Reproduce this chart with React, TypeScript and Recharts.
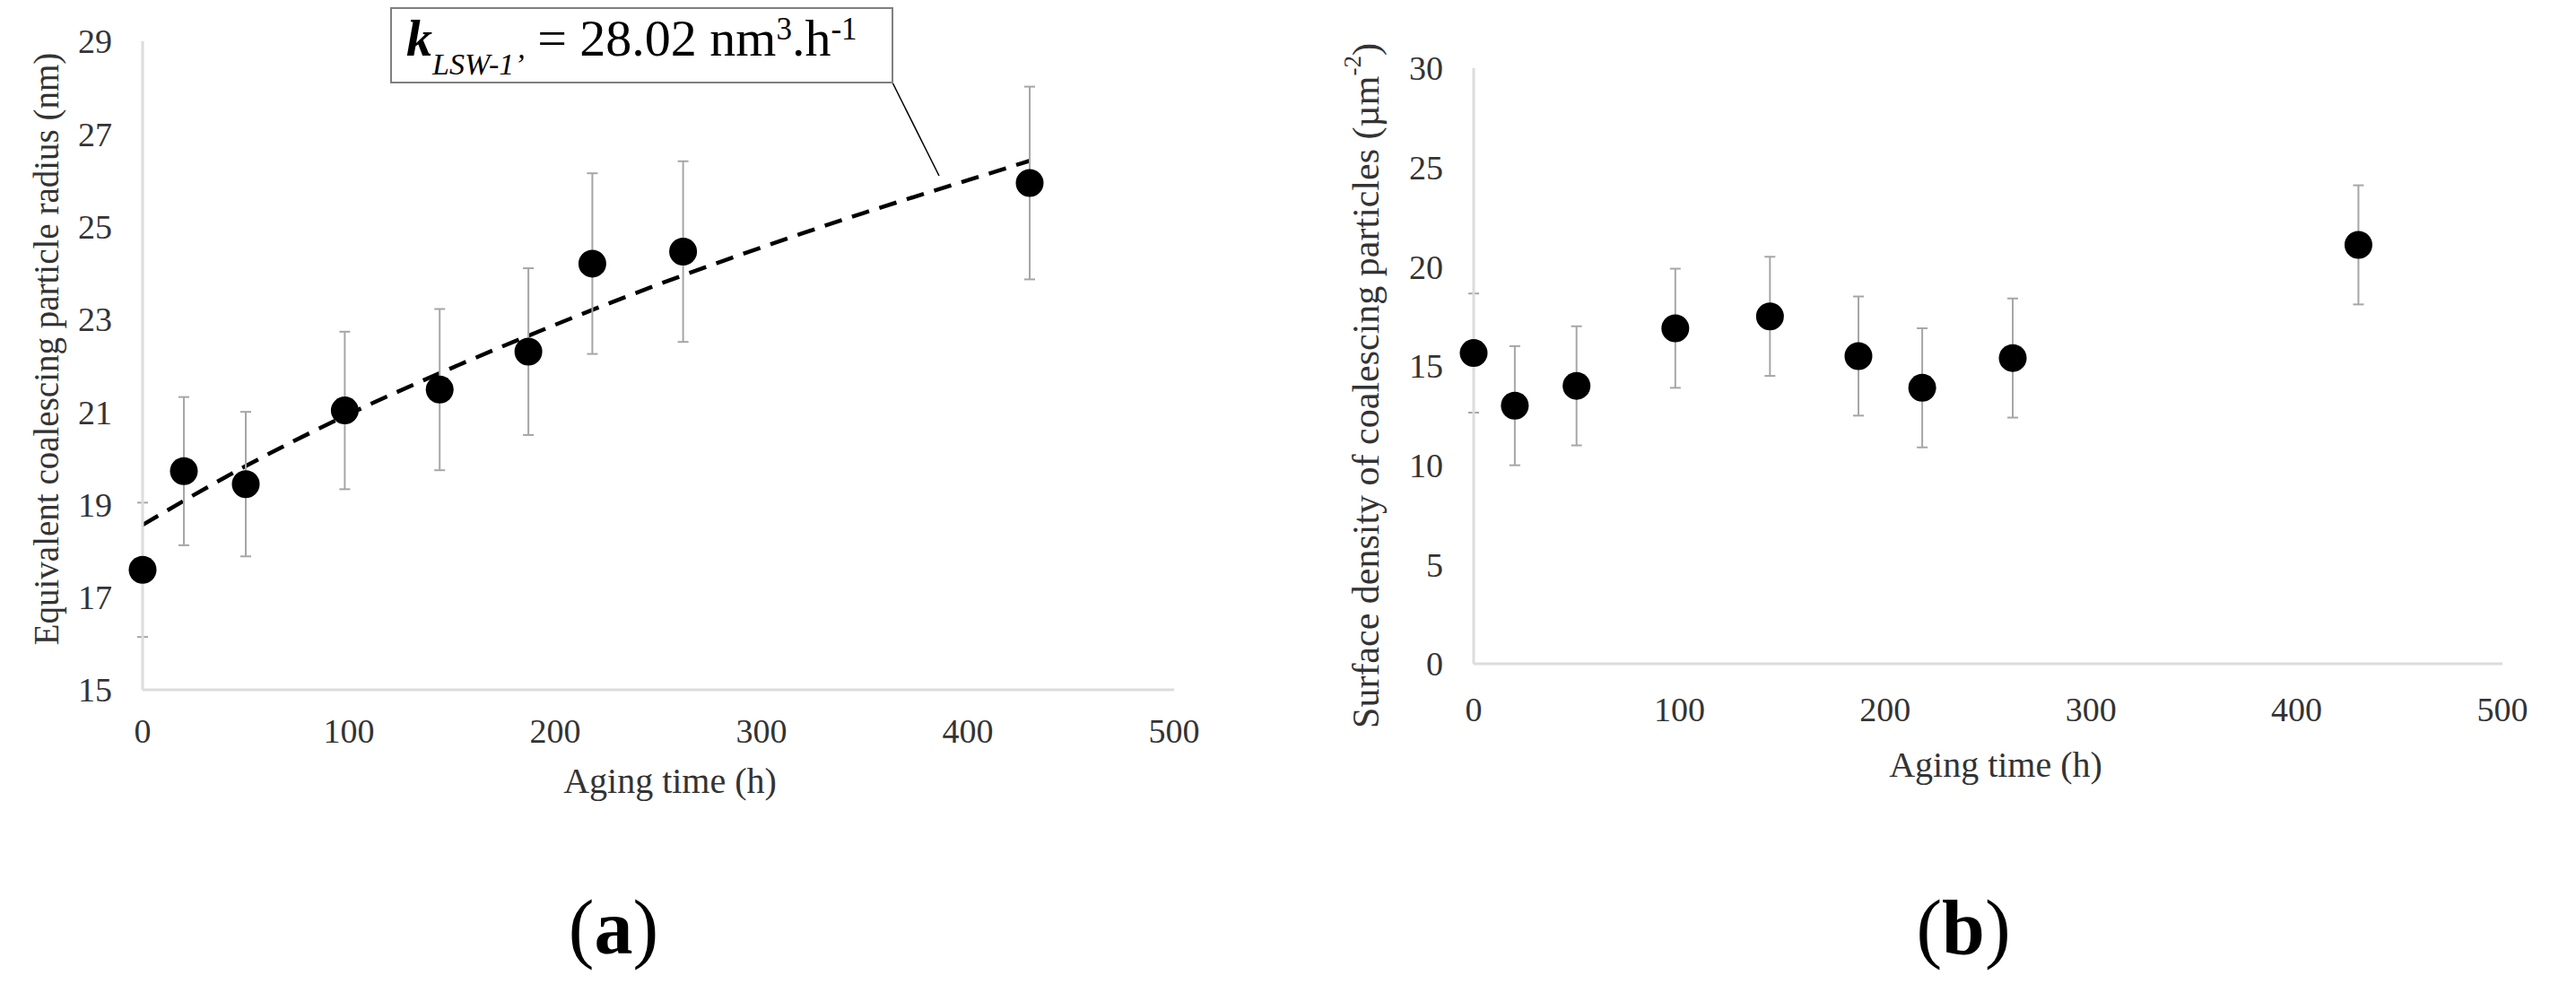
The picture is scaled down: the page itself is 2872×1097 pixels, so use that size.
import React from 'react';
import { ComposedChart, Scatter, Line, XAxis, YAxis, ErrorBar } from 'recharts';

// ---- data ----
const agingTime = [0, 20, 50, 98, 144, 187, 218, 262, 430];

// (a) equivalent coalescing particle radius (nm)
const radius = [17.59, 19.72, 19.44, 21.03, 21.48, 22.3, 24.2, 24.46, 25.94];
const radiusErr = [1.45, 1.6, 1.56, 1.7, 1.74, 1.8, 1.95, 1.95, 2.08];

// (a) LSW fit curve (dashed)
const fitTime = [0, 50, 100, 150, 200, 250, 300, 350, 400, 430];
const fitRadius = [18.56, 19.83, 20.95, 21.95, 22.88, 23.75, 24.55, 25.3, 26.0, 26.42];

// (b) surface density of coalescing particles (µm^-2)
const density = [15.65, 13.0, 14.0, 16.9, 17.5, 15.5, 13.9, 15.4, 21.1];
const densityErr = [3.0, 3.0, 3.0, 3.0, 3.0, 3.0, 3.0, 3.0, 3.0];

const timeTicks = [0, 100, 200, 300, 400, 500];
const radiusTicks = [15, 17, 19, 21, 23, 25, 27, 29];
const densityTicks = [0, 5, 10, 15, 20, 25, 30];

const radiusData = agingTime.map((x, i) => ({ x, y: radius[i], err: radiusErr[i] }));
const fitData = fitTime.map((x, i) => ({ x, y: fitRadius[i] }));
const densityData = agingTime.map((x, i) => ({ x, y: density[i], err: densityErr[i] }));

const FONT = "'Liberation Serif', 'Times New Roman', serif";
const TEXT = '#333333';
const AXIS = { stroke: '#dcdcdc', strokeWidth: 3 };

const Dot = (p: any) => <circle cx={p.cx} cy={p.cy} r={15.5} fill="#000" />;

export default function App() {
  return (
    <div style={{ position: 'absolute', left: 0, top: 0, width: 2872, height: 1097, background: '#fff' }}>
      <div style={{ position: 'absolute', left: 0, top: 0 }}>
        <ComposedChart width={1400} height={1097} margin={{ top: 46, right: 91, bottom: 0, left: 0 }}>
          <XAxis
            type="number"
            dataKey="x"
            domain={[0, 500]}
            ticks={timeTicks}
            interval={0}
            axisLine={AXIS}
            tickLine={false}
            tickSize={0}
            tickMargin={32}
            height={328}
            tick={{ fontSize: 38, fill: TEXT, fontFamily: FONT }}
          />
          <YAxis
            type="number"
            dataKey="y"
            domain={[15, 29]}
            ticks={radiusTicks}
            interval={0}
            axisLine={AXIS}
            tickLine={false}
            tickSize={0}
            tickMargin={34}
            width={159}
            tick={{ fontSize: 38, fill: TEXT, fontFamily: FONT }}
          />
          <Line
            data={fitData}
            dataKey="y"
            type="monotone"
            stroke="#000"
            strokeWidth={4.5}
            strokeDasharray="20 12"
            dot={false}
            activeDot={false}
            isAnimationActive={false}
          />
          <Scatter data={radiusData} fill="#000" shape={Dot} isAnimationActive={false}>
            <ErrorBar dataKey="err" direction="y" width={6} stroke="#a6a6a6" strokeWidth={2} isAnimationActive={false} />
          </Scatter>
        </ComposedChart>
      </div>

      <div style={{ position: 'absolute', left: 1450, top: 0 }}>
        <ComposedChart width={1422} height={1097} margin={{ top: 76, right: 82, bottom: 0, left: 0 }}>
          <XAxis
            type="number"
            dataKey="x"
            domain={[0, 500]}
            ticks={timeTicks}
            interval={0}
            axisLine={AXIS}
            tickLine={false}
            tickSize={0}
            tickMargin={37}
            height={357}
            tick={{ fontSize: 38, fill: TEXT, fontFamily: FONT }}
          />
          <YAxis
            type="number"
            dataKey="y"
            domain={[0, 30]}
            ticks={densityTicks}
            interval={0}
            axisLine={AXIS}
            tickLine={false}
            tickSize={0}
            tickMargin={34}
            width={193}
            tick={{ fontSize: 38, fill: TEXT, fontFamily: FONT }}
          />
          <Scatter data={densityData} fill="#000" shape={Dot} isAnimationActive={false}>
            <ErrorBar dataKey="err" direction="y" width={6} stroke="#a6a6a6" strokeWidth={2} isAnimationActive={false} />
          </Scatter>
        </ComposedChart>
      </div>

      <svg
        width={2872}
        height={1097}
        style={{ position: 'absolute', left: 0, top: 0, pointerEvents: 'none' }}
        fontFamily={FONT}
      >
        {/* axis titles (a) */}
        <text transform="translate(51,389) rotate(-90)" textAnchor="middle" dominantBaseline="central" fontSize={39} fill={TEXT}>
          Equivalent coalescing particle radius (nm)
        </text>
        <text x={747} y={870} textAnchor="middle" dominantBaseline="central" fontSize={40} fill={TEXT}>
          Aging time (h)
        </text>

        {/* axis titles (b) */}
        <text transform="translate(1523,430) rotate(-90)" textAnchor="middle" dominantBaseline="central" fontSize={42} fill={TEXT}>
          Surface density of coalescing particles (µm
          <tspan fontSize={27} dy={-15}>-2</tspan>
          <tspan dy={15}>)</tspan>
        </text>
        <text x={2225} y={852} textAnchor="middle" dominantBaseline="central" fontSize={40} fill={TEXT}>
          Aging time (h)
        </text>

        {/* callout */}
        <line x1={995} y1={92} x2={1047} y2={196} stroke="#000" strokeWidth={1.5} />
        <rect x={436} y={9} width={559} height={83} fill="#fff" stroke="#7f7f7f" strokeWidth={2} />
        <text x={453} y={62} fontSize={58} fill="#000">
          <tspan fontWeight="bold" fontStyle="italic">k</tspan>
          <tspan fontStyle="italic" fontSize={34} dy={21}>LSW-1’</tspan>
          <tspan dy={-21}> = 28.02 nm</tspan>
          <tspan fontSize={35} dy={-18}>3</tspan>
          <tspan dy={18}>.h</tspan>
          <tspan fontSize={35} dy={-18}>-1</tspan>
        </text>

        {/* panel labels */}
        <text x={684} y={1063} textAnchor="middle" fontSize={86} fill="#000">
          (<tspan fontWeight="bold">a</tspan>)
        </text>
        <text x={2189} y={1063} textAnchor="middle" fontSize={86} fill="#000">
          (<tspan fontWeight="bold">b</tspan>)
        </text>
      </svg>
    </div>
  );
}
